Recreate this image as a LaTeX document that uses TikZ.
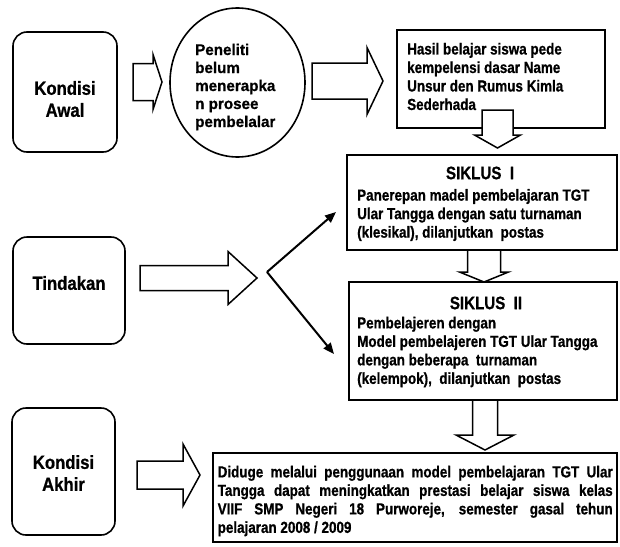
\documentclass[tikz,border=0pt]{standalone}
\usepackage{fontspec}
\setmainfont{Liberation Sans}
\newfontfamily\bodyf{Liberation Sans Bold}[FakeStretch=0.84, FakeBold=0.8]
\newfontfamily\labf{Liberation Sans Bold}[FakeStretch=0.88, FakeBold=0.8]
\newfontfamily\circf{Liberation Sans Bold}[FakeStretch=0.98, FakeBold=0.8]
\usetikzlibrary{shapes.geometric,arrows.meta}

\tikzset{
  box/.style={draw, line width=1.6pt, rectangle, inner sep=0pt},
  rbox/.style={draw, line width=1.6pt, rectangle, rounded corners=14pt, inner sep=0pt},
  labtext/.style={align=center, inner sep=0pt, font=\labf\fontsize{19}{22}\selectfont},
  bodytext/.style={inner sep=0pt, align=left, font=\bodyf\fontsize{16}{18.5}\selectfont},
  titletext/.style={inner sep=0pt, font=\bodyf\fontsize{18}{19}\selectfont},
  barrow/.style={draw, fill=white, line width=1.5pt, line join=miter},
  varrow/.style={line width=2pt, -{Triangle[length=11pt,width=9pt]}},
}

% horizontal block arrow: x0, xtip, yc, shaft half, head half, head length
\newcommand{\hblock}[6]{%
  \draw[barrow] (#1,#3-#4) -- (#2-#6,#3-#4) -- (#2-#6,#3-#5) -- (#2,#3)
    -- (#2-#6,#3+#5) -- (#2-#6,#3+#4) -- (#1,#3+#4) -- cycle;}
% vertical block arrow: xc, y0, ytip, shaft half, head half, head length
\newcommand{\vblock}[6]{%
  \draw[barrow] (#1-#4,#2) -- (#1-#4,#3-#6) -- (#1-#5,#3-#6) -- (#1,#3)
    -- (#1+#5,#3-#6) -- (#1+#4,#3-#6) -- (#1+#4,#2) -- cycle;}

\begin{document}
\begin{tikzpicture}[x=1pt, y=-1pt]
\useasboundingbox (0,0) rectangle (620,546);

% left column
\node[rbox, minimum width=104pt, minimum height=120pt] (ka) at (65,92) {};
\node[labtext] (kat) at (65,99) {Kondisi\\Awal};
\node[rbox, minimum width=112pt, minimum height=107pt] (tin) at (69,290.5) {};
\node[labtext] (tint) at (69,283) {Tindakan};
\node[rbox, minimum width=103pt, minimum height=127pt] (kak) at (63.5,471.5) {};
\node[labtext] (kakt) at (63.5,473) {Kondisi\\Akhir};

% circle
\node[draw, ellipse, line width=1.6pt, minimum width=135pt, minimum height=149pt, inner sep=0pt]
  (circ) at (237.5,82.5) {};
\node[inner sep=0pt, align=left, anchor=west, font=\circf\fontsize{15.5}{18}\selectfont]
  (circt) at (195,87) {Peneliti\\belum\\menerapka\\n prosee\\pembelalar};

% Hasil box
\node[box, minimum width=208pt, minimum height=98pt] (hasil) at (501,79) {};
\node[bodytext, anchor=west] (hasilt) at (407,76.5)
  {Hasil belajar siswa pede\\kempelensi dasar Name\\Unsur den Rumus Kimla\\Sederhada};

% Siklus I
\node[box, minimum width=270pt, minimum height=95pt] (s1) at (482,202.5) {};
\node[titletext] (s1h) at (480,173) {SIKLUS\ \ I};
\node[bodytext, anchor=west] (s1t) at (357,215)
  {Panerepan madel pembelajaran TGT\\Ular Tangga dengan satu turnaman\\(klesikal), dilanjutkan\ \ postas};

% Siklus II
\node[box, minimum width=268pt, minimum height=118pt] (s2) at (483,341) {};
\node[titletext] (s2h) at (486,303) {SIKLUS\ \ II};
\node[bodytext, anchor=west] (s2t) at (357,352)
  {Pembelajeren dengan\\Model pembelajeren TGT Ular Tangga\\dengan beberapa\ \ turnaman\\(kelempok),\ \ dilanjutkan\ \ postas};

% final box
\node[box, minimum width=404pt, minimum height=89pt] (fin) at (415,497.5) {};
\node[bodytext, anchor=west] (fint) at (217.5,501)
  {\makebox[395pt][s]{Diduge melalui penggunaan model pembelajaran TGT Ular}\\
   \makebox[395pt][s]{Tangga dapat meningkatkan prestasi belajar siswa kelas}\\
   \makebox[395pt][s]{VIIF SMP Negeri 18 Purworeje, semester gasal tehun}\\
   pelajaran 2008 / 2009};

% block arrows
\hblock{133}{162}{82}{18.5}{27.5}{9}
\hblock{312}{383}{81}{18}{33.5}{16}
\hblock{140}{257}{278}{12.5}{26.5}{29}
\hblock{137}{200}{475}{14}{31}{17}
\vblock{497.5}{110}{148}{15.5}{23}{13}
\vblock{484}{250}{282}{16.5}{24.5}{10}
\vblock{485}{400}{450}{12.5}{29}{15}

% fork arrows
\coordinate (v) at (267,272);
\coordinate (v1) at (336,212);
\coordinate (v2) at (334,354);
\draw[varrow] (v) -- (v1);
\draw[varrow] (v) -- (v2);
\end{tikzpicture}
\end{document}
